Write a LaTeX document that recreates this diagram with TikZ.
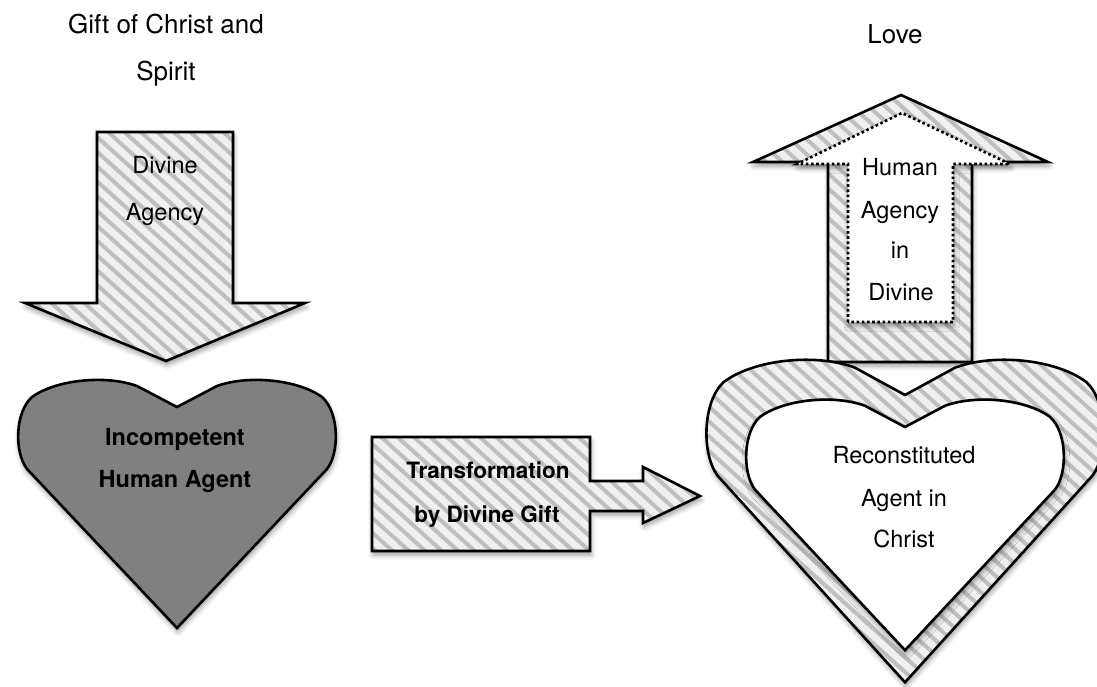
\documentclass[tikz,border=0pt]{standalone}
\usepackage{fontspec}
\setmainfont{TeX Gyre Heros}
\usetikzlibrary{patterns.meta,shadows.blur}
\definecolor{hatchbg}{RGB}{240,240,240}
\definecolor{hatchfg}{RGB}{190,190,190}
\definecolor{darkheart}{RGB}{128,128,128}
\tikzset{
  shapeshadow/.style={blur shadow={shadow xshift=1pt, shadow yshift=-4pt, shadow blur radius=5pt, shadow opacity=40}},
  outline/.style={draw=black, line width=2.6pt, line join=miter},
  hatched/.style={shapeshadow, preaction={fill=hatchbg}, pattern={Lines[angle=-42,distance=11pt,line width=4pt]}, pattern color=hatchfg, outline},
  darkfill/.style={shapeshadow, fill=darkheart, outline},
  whitefill/.style={shapeshadow, fill=white, outline},
  dottedbox/.style={shapeshadow, fill=white, draw=black, line width=2.6pt, dash pattern=on 2.6pt off 2.6pt},
  heartshape/.style={insert path={(0,0) -- (-40,-21) .. controls (-70,-32) and (-120,-28) .. (-145,-10) .. controls (-162,5) and (-163,45) .. (-150,62) -- (0,221) -- (150,62) .. controls (163,45) and (162,5) .. (145,-10) .. controls (120,-28) and (70,-32) .. (40,-21) -- cycle}},
  toplabel/.style={anchor=base, inner sep=0pt, font=\fontsize{26}{30}\selectfont},
  plainlabel/.style={anchor=base, inner sep=0pt, font=\fontsize{23.5}{28}\selectfont},
  boldlabel/.style={anchor=base, inner sep=0pt, font=\fontsize{23.5}{28}\selectfont\bfseries},
}
\begin{document}
\begin{tikzpicture}[x=1pt, y=-1pt]
\useasboundingbox (0,0) rectangle (1097,686);

% top labels
\node[toplabel] (gift1) at (166,33) {Gift of Christ and};
\node[toplabel] (gift2) at (166,80) {Spirit};
\node[toplabel] (love) at (895,43) {Love};

% divine agency arrow (down)
\path[hatched] (97,132) -- (233,132) -- (233,303) -- (305,303) -- (166,361) -- (25,303) -- (97,303) -- cycle;
\node[plainlabel] (div1) at (165,173) {Divine};
\node[plainlabel] (div2) at (165,220) {Agency};

% incompetent heart
\begin{scope}[shift={(177,407)}]
  \path[darkfill, heartshape];
\end{scope}
\node[boldlabel] (inc1) at (175,445) {Incompetent};
\node[boldlabel] (inc2) at (175,487) {Human Agent};

% transformation arrow
\path[hatched] (372,437) -- (590,437) -- (590,481) -- (643,481) -- (643,467) -- (700,496) -- (643,523) -- (643,511) -- (590,511) -- (590,551) -- (372,551) -- cycle;
\node[boldlabel, font=\fontsize{22.5}{28}\selectfont\bfseries] (tr1) at (488,478) {Transformation};
\node[boldlabel, font=\fontsize{22.5}{28}\selectfont\bfseries] (tr2) at (487,522) {by Divine Gift};

% up arrow
\path[hatched] (828,362) -- (828,162) -- (753,162) -- (901,95) -- (1048,162) -- (972,162) -- (972,362) -- cycle;
\path[dottedbox] (848,322) -- (848,164) -- (797,164) -- (902,113) -- (1010,164) -- (953,164) -- (953,322) -- cycle;
\node[plainlabel] (hum1) at (900,175) {Human};
\node[plainlabel] (hum2) at (900,218) {Agency};
\node[plainlabel] (hum3) at (900,258) {in};
\node[plainlabel] (hum4) at (901,300) {Divine};

% reconstituted hearts
\begin{scope}[shift={(905,395)}, xscale=1.25, yscale=1.3]
  \path[hatched, heartshape];
\end{scope}
\begin{scope}[shift={(905,427)}, yscale=1.01]
  \path[whitefill, heartshape];
\end{scope}
\node[plainlabel] (rec1) at (904,463) {Reconstituted};
\node[plainlabel] (rec2) at (904,506) {Agent in};
\node[plainlabel] (rec3) at (904,547) {Christ};
\end{tikzpicture}
\end{document}
